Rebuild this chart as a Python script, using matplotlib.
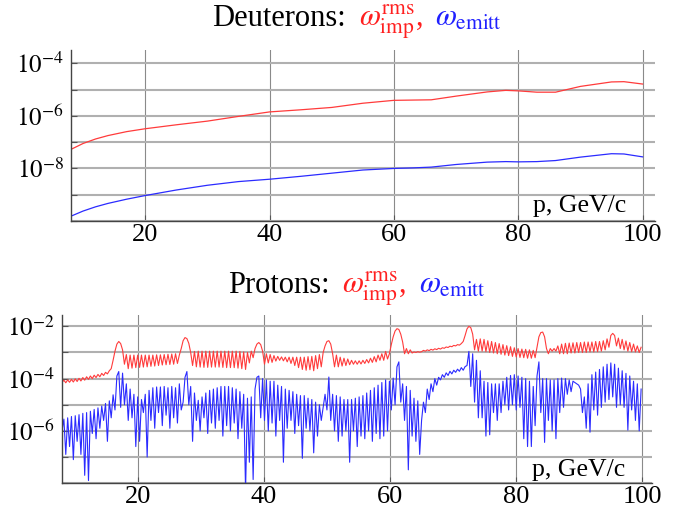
import numpy as np
import matplotlib
matplotlib.use("Agg")
import matplotlib.pyplot as plt
from matplotlib.offsetbox import TextArea, HPacker, AnnotationBbox

plt.rcParams['font.family'] = 'serif'
plt.rcParams['font.serif'] = ['Liberation Serif', 'DejaVu Serif']
plt.rcParams['mathtext.fontset'] = 'stix'

# ---- Deuterons (log10 values) ----
p_deut = [8, 10, 12, 14, 17, 20, 25, 30, 35, 40, 45, 50, 55, 60, 63, 66, 70, 75, 78, 80, 83, 86, 90, 95, 97, 100]
deut_imp = [-7.28, -7.05, -6.88, -6.75, -6.60, -6.49, -6.34, -6.20, -6.02, -5.85, -5.77, -5.68, -5.52,
            -5.41, -5.40, -5.39, -5.25, -5.09, -5.03, -5.05, -5.10, -5.10, -4.88, -4.71, -4.70, -4.79]
deut_emitt = [-9.82, -9.62, -9.46, -9.33, -9.17, -9.03, -8.82, -8.64, -8.50, -8.41, -8.30, -8.18, -8.06,
              -8.00, -7.98, -7.95, -7.85, -7.76, -7.74, -7.75, -7.74, -7.70, -7.57, -7.44, -7.45, -7.56]

# ---- Protons: sampled every 0.3 GeV/c from p = 8, log10 values ----
p_step = 0.3
prot_imp = [
    -4.15, -4.06, -4.16, -4.05, -4.14, -4.03, -4.13, -4.01, -4.11, -3.99,   # 8
    -4.09, -3.96, -4.06, -3.93, -4.03, -3.90, -4.00, -3.87, -3.96, -3.84,   # 11
    -3.93, -3.80, -3.88, -3.76, -3.82, -3.70, -3.62, -3.30, -2.95, -2.68,   # 14
    -2.58, -2.66, -2.90, -3.45, -3.08, -3.62, -3.10, -3.60, -3.10, -3.58,   # 17
    -3.10, -3.57, -3.10, -3.56, -3.10, -3.55, -3.10, -3.53, -3.10, -3.52,   # 20
    -3.09, -3.50, -3.09, -3.48, -3.08, -3.47, -3.07, -3.46, -3.06, -3.45,   # 23
    -3.05, -3.42, -3.10, -2.85, -2.55, -2.43, -2.47, -2.65, -3.00, -3.50,   # 26
    -2.96, -3.55, -2.95, -3.56, -2.95, -3.57, -2.95, -3.57, -2.95, -3.56,   # 29
    -2.95, -3.56, -2.95, -3.56, -2.95, -3.57, -2.95, -3.58, -2.95, -3.58,   # 32
    -2.95, -3.58, -2.95, -3.60, -2.96, -3.62, -2.98, -3.65, -3.00, -3.40,   # 35
    -2.95, -3.20, -2.85, -2.68, -2.62, -2.70, -2.95, -3.45, -3.05, -3.40,   # 38
    -3.08, -3.38, -3.12, -3.33, -3.15, -3.30, -3.17, -3.32, -3.18, -3.36,   # 41
    -3.18, -3.42, -3.18, -3.50, -3.18, -3.58, -3.18, -3.65, -3.18, -3.68,   # 44
    -3.16, -3.66, -3.15, -3.70, -3.12, -3.62, -3.08, -3.55, -3.00, -2.75,   # 47
    -2.58, -2.55, -2.68, -3.05, -3.55, -3.10, -3.55, -3.18, -3.52, -3.22,   # 50
    -3.50, -3.25, -3.47, -3.30, -3.45, -3.32, -3.45, -3.32, -3.44, -3.30,   # 53
    -3.42, -3.27, -3.40, -3.22, -3.38, -3.16, -3.36, -3.10, -3.30, -3.05,   # 56
    -3.30, -2.96, -3.25, -3.05, -2.70, -2.40, -2.18, -2.09, -2.12, -2.30,   # 59
    -2.60, -3.05, -2.85, -3.05, -2.90, -3.02, -2.98, -3.00, -2.97, -2.99,   # 62
    -2.97, -2.92, -2.95, -2.90, -2.93, -2.88, -2.91, -2.86, -2.89, -2.84,   # 65
    -2.87, -2.82, -2.84, -2.79, -2.81, -2.76, -2.78, -2.73, -2.75, -2.70,   # 68
    -2.72, -2.66, -2.58, -2.35, -2.10, -2.00, -2.05, -2.30, -2.90, -2.50,   # 71
    -2.95, -2.48, -2.95, -2.50, -2.97, -2.55, -3.00, -2.58, -3.02, -2.62,   # 74
    -3.05, -2.66, -3.07, -2.70, -3.10, -2.74, -3.12, -2.78, -3.15, -2.82,   # 77
    -3.17, -2.85, -3.19, -2.87, -3.20, -2.88, -3.22, -2.90, -3.22, -2.92,   # 80
    -3.20, -2.80, -2.40, -2.24, -2.22, -2.40, -2.85, -3.05, -2.85, -2.95,   # 83
    -2.85, -2.95, -2.75, -3.05, -2.68, -3.05, -2.65, -3.05, -2.64, -3.02,   # 86
    -2.63, -3.02, -2.62, -3.00, -2.62, -3.00, -2.60, -3.00, -2.60, -2.98,   # 89
    -2.60, -2.98, -2.58, -2.97, -2.58, -2.95, -2.55, -2.90, -2.48, -2.80,   # 92
    -2.35, -2.27, -2.35, -2.75, -2.45, -2.85, -2.50, -2.90, -2.56, -2.95,   # 95
    -2.62, -2.97, -2.68, -2.98, -2.75, -3.00, -2.80, -3.00, -2.85, -3.00,   # 98
]
prot_emitt = [
    -6.00, -5.55, -6.90, -5.50, -6.60, -5.45, -7.10, -5.42, -6.40, -5.38,   # 8
    -6.90, -5.33, -7.70, -5.30, -7.90, -5.25, -6.10, -5.18, -6.30, -5.12,   # 11
    -5.90, -5.05, -5.60, -4.95, -6.40, -4.85, -5.50, -4.62, -5.20, -3.90,   # 14
    -3.73, -5.10, -3.79, -5.00, -4.20, -5.60, -4.40, -5.50, -4.60, -6.60,   # 17
    -4.70, -6.40, -4.80, -5.30, -4.60, -7.00, -4.45, -5.60, -4.35, -5.90,   # 20
    -4.32, -5.30, -4.32, -5.80, -4.30, -5.40, -4.35, -5.90, -4.30, -5.50,   # 23
    -4.35, -5.70, -4.20, -5.20, -4.90, -3.95, -3.73, -5.00, -4.30, -6.40,   # 26
    -4.55, -5.60, -4.83, -6.00, -4.70, -5.50, -4.55, -6.10, -4.45, -5.70,   # 29
    -4.40, -5.90, -4.35, -5.60, -4.30, -6.20, -4.30, -5.80, -4.30, -6.00,   # 32
    -4.35, -5.70, -4.40, -6.30, -4.50, -5.90, -4.60, -8.30, -4.75, -7.20,   # 35
    -4.70, -7.86, -4.40, -3.95, -3.90, -5.50, -4.00, -5.60, -4.05, -6.00,   # 38
    -4.10, -5.70, -4.10, -6.20, -4.25, -5.60, -4.30, -7.20, -4.40, -5.90,   # 41
    -4.45, -5.60, -4.50, -6.10, -4.60, -5.80, -4.65, -7.05, -4.65, -5.90,   # 44
    -4.75, -6.00, -4.80, -6.84, -4.90, -6.20, -5.00, -5.60, -5.10, -4.60,   # 47
    -5.20, -3.94, -5.60, -4.60, -6.00, -4.65, -6.40, -4.70, -6.20, -4.80,   # 50
    -6.00, -4.80, -7.20, -4.80, -6.00, -4.75, -6.60, -4.70, -6.20, -4.65,   # 53
    -6.30, -4.55, -6.00, -4.45, -6.40, -4.35, -6.10, -4.25, -6.30, -4.15,   # 56
    -6.20, -4.05, -6.00, -4.10, -5.20, -3.98, -5.00, -3.55, -3.36, -4.90,   # 59
    -4.20, -5.60, -4.30, -7.49, -4.45, -6.20, -4.75, -6.40, -4.85, -6.90,   # 62
    -5.60, -4.90, -5.30, -4.40, -4.80, -4.20, -4.50, -4.00, -4.25, -3.95,   # 65
    -4.05, -3.85, -3.95, -3.78, -3.88, -3.72, -3.82, -3.68, -3.76, -3.64,   # 68
    -3.72, -3.58, -3.68, -3.54, -3.50, -2.96, -4.30, -3.05, -4.90, -3.30,   # 71
    -5.50, -3.70, -5.50, -4.10, -6.20, -4.15, -6.15, -4.20, -5.30, -4.20,   # 74
    -5.60, -4.20, -5.30, -4.10, -5.00, -3.95, -5.20, -3.88, -5.00, -3.85,   # 77
    -5.20, -3.90, -5.10, -3.95, -6.30, -4.00, -6.60, -4.10, -6.60, -4.30,   # 80
    -5.80, -3.90, -3.36, -5.30, -4.00, -6.44, -4.00, -5.60, -4.05, -6.00,   # 83
    -4.05, -6.30, -4.00, -5.30, -3.98, -5.10, -4.00, -4.60, -4.05, -4.50,   # 86
    -4.10, -4.15, -4.20, -4.25, -4.40, -5.30, -4.70, -5.90, -4.20, -6.05,   # 89
    -3.85, -5.20, -3.75, -5.40, -3.65, -5.10, -3.55, -4.90, -3.45, -4.80,   # 92
    -3.40, -4.70, -3.45, -5.10, -3.60, -5.00, -3.70, -5.10, -3.80, -5.97,   # 95
    -3.90, -5.20, -4.10, -5.60, -4.20, -6.00, -4.40, -5.20, -4.60, -5.00,   # 98
]

x_ticks = [20, 40, 60, 80, 100]
RED = '#ff3b3b'
BLUE = '#2b2bff'

fig = plt.figure(figsize=(6.85, 5.14), dpi=100)
ax1 = fig.add_axes([0.1032, 0.570, 0.853, 0.333])
ax2 = fig.add_axes([0.0905, 0.0600, 0.862, 0.3270])

p_prot = 8 + p_step * np.arange(len(prot_imp))
keep = p_prot <= 100.001

ax1.plot(p_deut, 10.0 ** np.array(deut_imp), color=RED, lw=0.9)
ax1.plot(p_deut, 10.0 ** np.array(deut_emitt), color=BLUE, lw=0.9)
ax2.plot(p_prot[keep], 10.0 ** np.array(prot_imp)[keep], color=RED, lw=0.8)
ax2.plot(p_prot[keep], 10.0 ** np.array(prot_emitt)[keep], color=BLUE, lw=0.8)


def style(ax, lo, hi, xmax, labelled):
    ax.set_yscale('log')
    ax.set_xlim(8, xmax)
    ax.set_ylim(10.0 ** lo, 10.0 ** hi)
    decades = list(range(lo, int(np.floor(hi)) + 1))
    ax.set_yticks([10.0 ** d for d in decades])
    ax.set_yticklabels([r'$10^{%d}$' % d if d in labelled else '' for d in decades])
    ax.yaxis.set_minor_locator(matplotlib.ticker.NullLocator())
    ax.set_xticks(x_ticks)
    ax.set_xticklabels([str(t) for t in x_ticks])
    ax.tick_params(direction='in', length=4, width=0.8, color='#555555')
    ax.tick_params(axis='y', labelsize=18, pad=5)
    ax.tick_params(axis='x', labelsize=19, pad=2)
    ax.grid(axis='y', color='#b0b0b0', lw=1.5)
    ax.grid(axis='x', color='#8a8a8a', lw=0.8)
    ax.set_axisbelow(True)
    for s in ('top', 'right'):
        ax.spines[s].set_visible(False)
    for s in ('left', 'bottom'):
        ax.spines[s].set_color('#444444')
        ax.spines[s].set_linewidth(1.0)


style(ax1, -10, -3.49, 102, [-4, -6, -8])
style(ax2, -8, -1.57, 101.6, [-2, -4, -6])

ax1.text(0.950, 0.053, 'p, GeV/c', transform=ax1.transAxes, ha='right', va='baseline', fontsize=18.5)
ax2.text(0.954, 0.045, 'p, GeV/c', transform=ax2.transAxes, ha='right', va='baseline', fontsize=18.5)


def title(label, y):
    parts = [
        TextArea(label, textprops=dict(color='black', size=22)),
        TextArea(r'$\omega^{\mathrm{rms}}_{\mathrm{imp}}$,', textprops=dict(color='#ff2020', size=22)),
        TextArea(r'$\omega_{\mathrm{emitt}}$', textprops=dict(color='#2020ff', size=22)),
    ]
    box = HPacker(children=parts, align='baseline', pad=0, sep=9)
    ab = AnnotationBbox(box, (357, y), xycoords='figure pixels', frameon=False,
                        box_alignment=(0.5, 0.5))
    fig.add_artist(ab)


title('Deuterons:', 492)
title('Protons:', 225)

fig.savefig('out.png', dpi=100)
